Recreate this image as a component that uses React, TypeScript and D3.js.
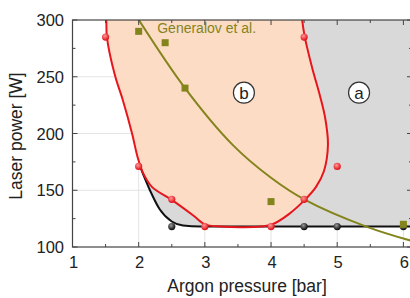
import React, { useEffect, useRef } from 'react'
import * as d3 from 'd3'

// x ticks / y ticks
const xTicks = [1, 2, 3, 4, 5, 6]
const yTicks = [100, 150, 200, 250, 300]

// measured points
const redDots = [[1.5, 285], [2, 171], [2.5, 142], [3, 118], [4, 118], [4.5, 142], [5, 171], [4.5, 285]]
const blackDots = [[2.5, 118], [4.5, 118], [5, 118], [6, 118]]
const generalovDots = [[2, 290], [2.4, 280], [2.7, 240], [4, 140], [6, 120]]

// boundary of region (b)
const redLoop = [
  [1.45, 330], [1.49, 312], [1.51, 300], [1.52, 285], [1.64, 251.5], [1.76, 229.5], [1.9, 200],
  [1.98, 180], [2.06, 166], [2.2, 153], [2.5, 141.5], [2.82, 128], [3.0, 120], [3.25, 118], [3.55, 117.5],
  [3.85, 118], [4.02, 120], [4.27, 129], [4.51, 141.5], [4.68, 153], [4.8, 167], [4.86, 190],
  [4.82, 213], [4.74, 233], [4.63, 256], [4.54, 277], [4.51, 285], [4.47, 300], [4.45, 312], [4.42, 330]
]

// lower boundary of region (a)
const blackCurve = [
  [2.02, 171], [2.17, 150], [2.32, 133], [2.5, 122.5], [2.67, 119], [2.93, 118],
  [3.5, 118], [6.3, 118]
]

// Generalov et al. curve
const generalovCurve = [
  [1.97, 303], [2.7, 240], [3.42, 190], [4.0, 161], [4.5, 142], [5.44, 118], [6.15, 105]
]

// region labels
const regionLabels = [['b', 3.59, 236], ['a', 5.33, 236]] as [string, number, number][]

const W = 410
const H = 298
const font = 'Arial, "Liberation Sans", Helvetica, sans-serif'

const App = () => {
  const svgRef = useRef<SVGSVGElement>(null)

  useEffect(() => {
    const svg = d3.select(svgRef.current)
    svg.selectAll('*').remove()

    const x = d3.scaleLinear().domain([1, 6.13]).range([72.5, 412])
    const y = d3.scaleLinear().domain([100, 300]).range([247, 20])
    const [x0, x1] = x.range()
    const [y0, y1] = y.range()

    const defs = svg.append('defs')
    defs.append('clipPath').attr('id', 'plot')
      .append('rect').attr('x', x0).attr('y', y1).attr('width', x1 - x0).attr('height', y0 - y1)

    const rg = defs.append('radialGradient').attr('id', 'redg').attr('cx', '40%').attr('cy', '35%').attr('r', '60%')
    rg.append('stop').attr('offset', '0%').attr('stop-color', '#ff9a9a')
    rg.append('stop').attr('offset', '100%').attr('stop-color', '#e3141b')
    const bg = defs.append('radialGradient').attr('id', 'blkg').attr('cx', '40%').attr('cy', '35%').attr('r', '60%')
    bg.append('stop').attr('offset', '0%').attr('stop-color', '#9a9a9a')
    bg.append('stop').attr('offset', '100%').attr('stop-color', '#111')

    const g = svg.append('g').attr('clip-path', 'url(#plot)')

    // grid
    g.selectAll('.gx').data(xTicks.slice(1)).join('line')
      .attr('x1', d => x(d)).attr('x2', d => x(d)).attr('y1', y0).attr('y2', y1)
      .attr('stroke', '#e4e4e4').attr('stroke-width', 1)
    g.selectAll('.gy').data(yTicks.slice(1, -1)).join('line')
      .attr('x1', x0).attr('x2', x1).attr('y1', d => y(d)).attr('y2', d => y(d))
      .attr('stroke', '#e4e4e4').attr('stroke-width', 1)

    const lineX = d3.line<number[]>().x(d => x(d[0])).y(d => y(d[1])).curve(d3.curveMonotoneX)
    const blackPath = lineX(blackCurve) as string

    // region (a)
    const last = blackCurve[blackCurve.length - 1]
    g.append('path')
      .attr('d', blackPath + `L${x(last[0])},${y(330)}L${x(2.3)},${y(330)}Z`)
      .attr('fill', '#d9d9d9')

    // region (b)
    const loopLine = d3.line<number[]>().x(d => x(d[0])).y(d => y(d[1])).curve(d3.curveCatmullRomClosed.alpha(0.5))
    const loopPath = loopLine(redLoop) as string
    g.append('path').attr('d', loopPath).attr('fill', '#fcdcc5')

    g.append('path').attr('d', blackPath).attr('fill', 'none').attr('stroke', '#111').attr('stroke-width', 2)
    g.append('path').attr('d', loopPath).attr('fill', 'none').attr('stroke', '#e5161d').attr('stroke-width', 2)

    const olive = '#84841c'
    g.append('path').attr('d', d3.line<number[]>().x(d => x(d[0])).y(d => y(d[1])).curve(d3.curveCatmullRom)(generalovCurve) as string)
      .attr('fill', 'none').attr('stroke', olive).attr('stroke-width', 2)

    g.selectAll('.bd').data(blackDots).join('circle')
      .attr('cx', d => x(d[0])).attr('cy', d => y(d[1])).attr('r', 3.6).attr('fill', 'url(#blkg)')
    g.selectAll('.rd').data(redDots).join('circle')
      .attr('cx', d => x(d[0])).attr('cy', d => y(d[1])).attr('r', 3.6).attr('fill', 'url(#redg)')
    g.selectAll('.gd').data(generalovDots).join('rect')
      .attr('x', d => x(d[0]) - 3.5).attr('y', d => y(d[1]) - 3.5).attr('width', 7).attr('height', 7)
      .attr('fill', olive)

    regionLabels.forEach(([t, lx, ly]) => {
      svg.append('circle').attr('cx', x(lx)).attr('cy', y(ly)).attr('r', 10.5)
        .attr('fill', '#fff').attr('stroke', '#333').attr('stroke-width', 1.2)
      svg.append('text').attr('x', x(lx)).attr('y', y(ly) + 6).attr('text-anchor', 'middle')
        .attr('font-family', font).attr('font-size', 17).attr('fill', '#222').text(t)
    })

    svg.append('text').attr('x', x(2.28)).attr('y', 33).attr('font-family', font).attr('font-size', 14)
      .attr('fill', olive).text('Generalov et al.')

    // frame + ticks
    const ax = '#444'
    svg.append('rect').attr('x', x0).attr('y', y1).attr('width', x1 - x0).attr('height', y0 - y1)
      .attr('fill', 'none').attr('stroke', ax).attr('stroke-width', 1.2)

    const xMinor = d3.range(1.5, 6.5, 1)
    const yMinor = d3.range(125, 300, 50)
    const tk = svg.append('g').attr('stroke', ax).attr('stroke-width', 1)
    const xt = (vals: number[], len: number) => {
      tk.selectAll(null).data(vals).join('line').attr('x1', d => x(d)).attr('x2', d => x(d)).attr('y1', y0).attr('y2', y0 - len)
      tk.selectAll(null).data(vals).join('line').attr('x1', d => x(d)).attr('x2', d => x(d)).attr('y1', y1).attr('y2', y1 + len)
    }
    const yt = (vals: number[], len: number) => {
      tk.selectAll(null).data(vals).join('line').attr('y1', d => y(d)).attr('y2', d => y(d)).attr('x1', x0).attr('x2', x0 + len)
      tk.selectAll(null).data(vals).join('line').attr('y1', d => y(d)).attr('y2', d => y(d)).attr('x1', x1).attr('x2', x1 - len)
    }
    xt(xTicks, 5); xt(xMinor, 3); yt(yTicks, 5); yt(yMinor, 3)

    svg.selectAll('.xl').data(xTicks).join('text')
      .attr('x', d => x(d) + 1).attr('y', 268).attr('text-anchor', 'middle')
      .attr('font-family', font).attr('font-size', 16.5).attr('fill', '#222').text(d => d)
    svg.selectAll('.yl').data(yTicks).join('text')
      .attr('x', 64).attr('y', d => y(d) + 6).attr('text-anchor', 'end')
      .attr('font-family', font).attr('font-size', 16.5).attr('fill', '#222').text(d => d)

    svg.append('text').attr('x', 247).attr('y', 292).attr('text-anchor', 'middle')
      .attr('font-family', font).attr('font-size', 17.5).attr('fill', '#222').text('Argon pressure [bar]')
    svg.append('text').attr('transform', 'translate(22,136) rotate(-90)').attr('text-anchor', 'middle')
      .attr('font-family', font).attr('font-size', 17.5).attr('fill', '#222').text('Laser power [W]')
  }, [])

  return (
    <svg ref={svgRef} width={W} height={H}
      style={{ position: 'absolute', left: 0, top: 0, background: '#fff', overflow: 'hidden' }} />
  )
}

export default App
